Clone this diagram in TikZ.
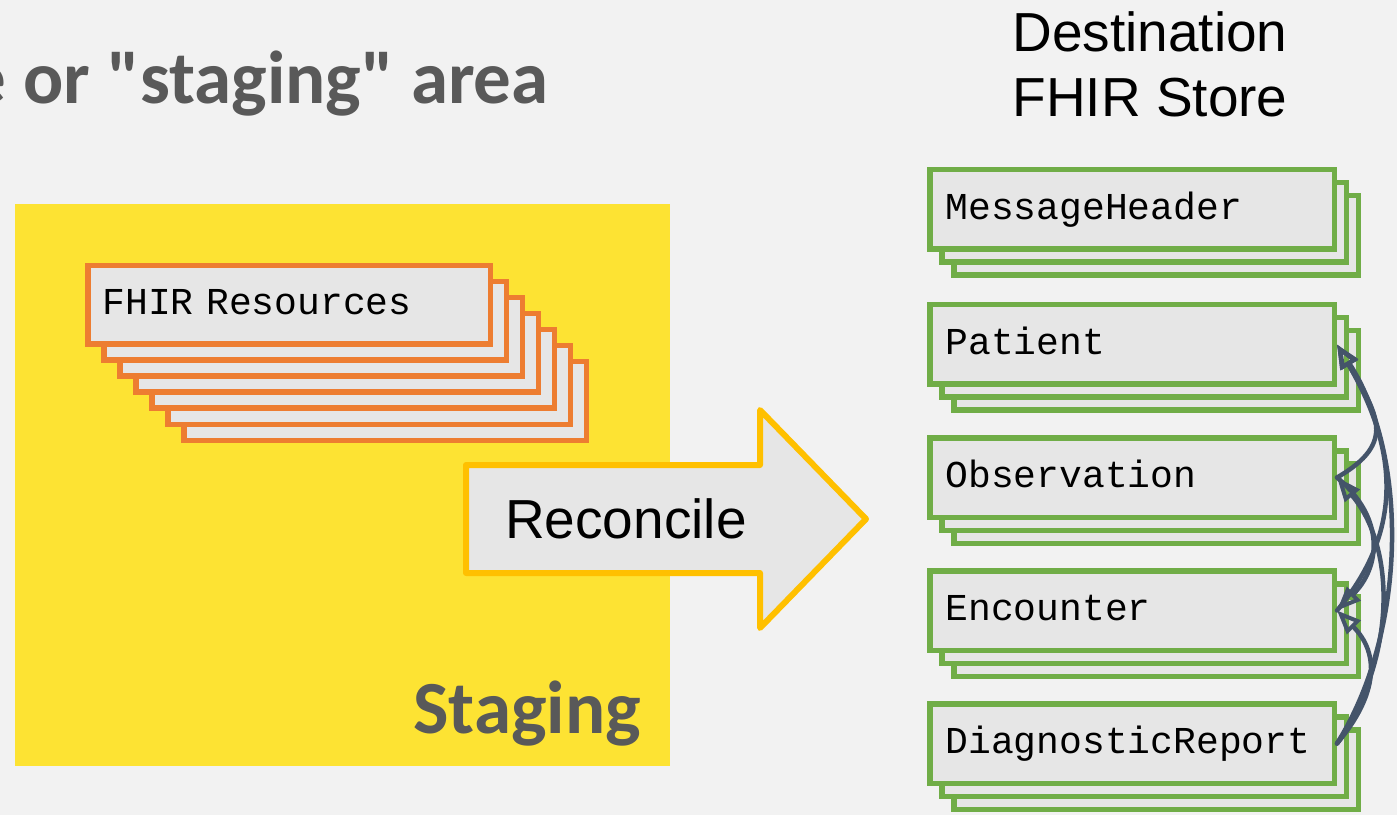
\documentclass[tikz,border=0pt]{standalone}
\usepackage{fontspec}
\newfontfamily\calibri{Carlito}
\newfontfamily\arialf{Liberation Sans}
\newfontfamily\monof{Liberation Mono}
\usetikzlibrary{arrows.meta}
\definecolor{bg}{HTML}{F2F2F2}
\definecolor{stagingyellow}{HTML}{FDE333}
\definecolor{titlegray}{HTML}{595959}
\definecolor{boxfill}{HTML}{E6E6E6}
\definecolor{resorange}{HTML}{ED7D31}
\definecolor{storegreen}{HTML}{70AD47}
\definecolor{arrowgold}{HTML}{FFC000}
\definecolor{refslate}{HTML}{44546A}

% one stacked resource in the destination store: two copies behind, labelled box in front
\newcommand\storestack[3]{%
  \node[storebox] (#1-b2) at (1156, {#2-26}) {};
  \node[storebox] (#1-b1) at (1144, {#2-13}) {};
  \node[storebox] (#1) at (1132, #2) {#3};
}

\begin{document}
\begin{tikzpicture}[x=1pt, y=1pt,
  monotext/.style={font=\monof\fontsize{38}{44}\selectfont, text height=28pt, text depth=8pt},
  resbox/.style={monotext, draw=resorange, fill=boxfill, line width=5.5pt,
    minimum width=402.5pt, minimum height=78.5pt, text width=373pt, inner xsep=14.75pt, align=left},
  storebox/.style={monotext, draw=storegreen, fill=boxfill, line width=5.5pt,
    minimum width=404.5pt, minimum height=79.5pt, text width=373pt, inner xsep=15.75pt, align=left},
  heading/.style={font=\calibri\bfseries\fontsize{75}{90}\selectfont, text=titlegray, inner sep=0pt},
  arialtext/.style={font=\arialf\fontsize{55}{65}\selectfont, inner sep=0pt},
  reflink/.style={draw=refslate, line width=4.5pt, line cap=round, ->,
    >={Triangle[open, length=24pt, width=19pt, line width=4pt]}}
]
\useasboundingbox (0,0) rectangle (1397,815);
\fill[bg] (0,0) rectangle (1397,815);
\clip (0,0) rectangle (1397,815);

% title line
\node[heading, anchor=base east] (title) at (549,711) {e or "staging" area};

% staging area
\fill[stagingyellow] (15,49) rectangle (670,611);
\node[heading, anchor=base east] (staging) at (641,82) {Staging};

% pile of FHIR resources, back to front
\foreach \i in {6,5,...,1}
  \node[resbox] (res\i) at ({289+16*\i}, {510-16*\i}) {};
\node[resbox] (res) at (289,510) {FHIR Resources};

% reconcile arrow
\draw[draw=arrowgold, fill=boxfill, line width=6pt, line join=round]
  (466,350) -- (760,350) -- (760,405) -- (866,296) -- (760,187) -- (760,242) -- (466,242) -- cycle;
\node[arialtext, anchor=base west] (reconcile) at (505,277) {Reconcile};

% destination store
\node[arialtext, anchor=base] (dest1) at (1150,763) {Destination};
\node[arialtext, anchor=base] (dest2) at (1150,698) {FHIR Store};

\storestack{msg}{605.5}{MessageHeader}
\storestack{pat}{470.5}{Patient}
\storestack{obs}{337.5}{Observation}
\storestack{enc}{204.5}{Encounter}
\storestack{dr}{71.5}{DiagnosticReport}

% references between resources
\draw[reflink] (obs.east) to[out=30, in=-60, out distance=70, in distance=80] (pat.east);
\draw[reflink] (enc.east) to[out=50, in=-60, out distance=110, in distance=115] (pat.east);
\draw[reflink] (dr.east) to[out=58, in=-57, out distance=135, in distance=130] (pat.east);
\draw[reflink] (dr.east) to[out=55, in=-50, out distance=100, in distance=95] (obs.east);
\draw[reflink] (dr.east) to[out=50, in=-45, out distance=65, in distance=60] (enc.east);
\draw[reflink] (obs.east) to[out=-40, in=45, out distance=65, in distance=60] (enc.east);
\end{tikzpicture}
\end{document}
